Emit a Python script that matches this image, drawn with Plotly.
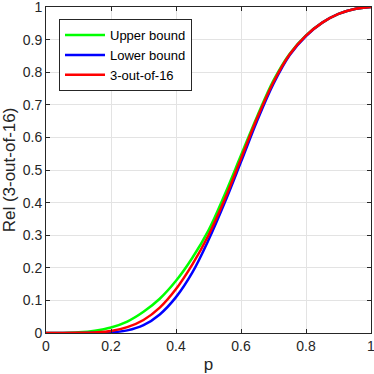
import plotly.graph_objects as go

p = [0.0, 0.05, 0.1, 0.15, 0.2, 0.25, 0.3, 0.35, 0.4, 0.45, 0.5,
     0.55, 0.6, 0.65, 0.7, 0.75, 0.8, 0.85, 0.9, 0.95, 1.0]
upper = [0, 0.0002, 0.002, 0.007, 0.017, 0.035, 0.065, 0.105, 0.16, 0.23, 0.315,
         0.425, 0.545, 0.665, 0.775, 0.857, 0.913, 0.952, 0.979, 0.994, 1.0]
lower = [0, 0.0, 0.0001, 0.0005, 0.002, 0.008, 0.024, 0.057, 0.11, 0.185, 0.285,
         0.40, 0.525, 0.652, 0.765, 0.853, 0.911, 0.952, 0.979, 0.994, 1.0]
exact = [0, 0.0, 0.0004, 0.0018, 0.006, 0.018, 0.040, 0.078, 0.135, 0.21, 0.30,
         0.41, 0.535, 0.66, 0.77, 0.855, 0.912, 0.952, 0.979, 0.994, 1.0]

names = ["Upper bound", "Lower bound", "3-out-of-16"]
colors = ["#00ff00", "#0000ff", "#ff0000"]

fig = go.Figure()
for name, ys, c in zip(names, [upper, lower, exact], colors):
    fig.add_trace(go.Scatter(x=p, y=ys, mode="lines", name=name,
                             line=dict(color=c, width=2.5, shape="spline", smoothing=1.0)))

axis_common = dict(showline=True, linecolor="#262626", linewidth=1, mirror="ticks",
                   ticks="inside", ticklen=4, tickcolor="#262626",
                   showgrid=True, gridcolor="#e3e3e3", gridwidth=1, zeroline=False,
                   automargin=False, ticklabeloverflow="allow",
                   tickfont=dict(family="Liberation Sans, Arial", size=14, color="#262626"))

fig.update_layout(
    width=374, height=374,
    margin=dict(l=46, r=3, t=7, b=41),
    paper_bgcolor="white", plot_bgcolor="white",
    font=dict(family="Liberation Sans, Arial", size=14, color="#262626"),
    xaxis=dict(range=[0, 1], dtick=0.2, tick0=0,
               title=dict(text="p", standoff=7), **axis_common),
    yaxis=dict(range=[0, 1], dtick=0.1, tick0=0,
               title=dict(text="Rel (3-out-of-16)", standoff=4), **axis_common),
    legend=dict(x=0.04, y=0.963, xanchor="left", yanchor="top",
                bgcolor="white", bordercolor="#262626", borderwidth=1,
                font=dict(family="Liberation Sans, Arial", size=13, color="#000000"),
                tracegroupgap=0, itemwidth=40),
    showlegend=True,
)

fig.write_html("out.html", config={"displayModeBar": False},
               post_script="document.body.style.margin='0';document.body.style.overflow='hidden';")
